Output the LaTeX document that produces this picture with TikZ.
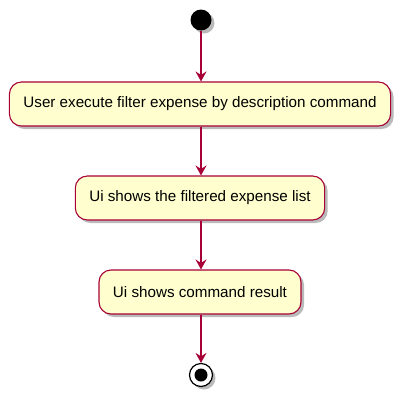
\documentclass[tikz,border=0pt]{standalone}
\usepackage{fontspec}
\setmainfont{Liberation Sans}
\usetikzlibrary{arrows.meta, shadows}

\begin{document}
\begin{tikzpicture}[x = 1pt, y = -1pt,
  action/.style = {draw = umlred, fill = umlfill, line width = 1.1pt, rounded corners = 12pt,
    minimum height = 44pt, inner xsep = 14pt, font = \fontsize{15.2}{17}\selectfont,
    drop shadow = {shadow xshift = 3pt, shadow yshift = -3pt, fill = black!45, opacity = 0.6}},
  flow/.style = {draw = umlred, line width = 1.1pt, -{Stealth[inset = 3.5pt, length = 10pt, width = 11pt]}}]
\definecolor{umlred}{HTML}{A80036}
\definecolor{umlfill}{HTML}{FEFECE}
\useasboundingbox (0, 0) rectangle (407, 402);
% start and actions
\node[circle, fill = black, minimum size = 21pt, inner sep = 0pt,
  drop shadow = {shadow xshift = 3pt, shadow yshift = -3pt, fill = black!45, opacity = 0.6}] (start) at (201, 20){};
\node[action] (filter) at (200, 104){User execute filter expense by description command};
\node[action] (list) at (200, 198){Ui shows the filtered expense list};
\node[action] (result) at (200, 292){Ui shows command result};
% end
\node[circle, draw = black, fill = white, line width = 1.2pt, minimum size = 23pt, inner sep = 0pt,
  drop shadow = {shadow xshift = 3pt, shadow yshift = -3pt, fill = black!45, opacity = 0.6}] (stop) at (201, 375){};
\node[circle, fill = black, minimum size = 13pt, inner sep = 0pt] (stopdot) at (stop.center){};
% flows
\draw[flow] (start) -- (start |- filter.north);
\draw[flow] (filter.south -| start) -- (start |- list.north);
\draw[flow] (list.south -| start) -- (start |- result.north);
\draw[flow] (result.south -| start) -- (stop);
\end{tikzpicture}
\end{document}
